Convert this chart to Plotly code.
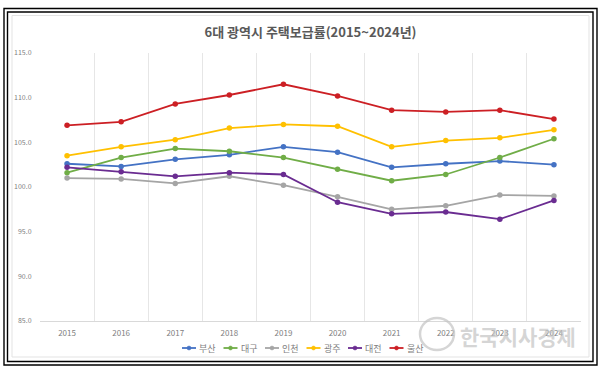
import plotly.graph_objects as go

# ---------------- data ----------------
years = [2015, 2016, 2017, 2018, 2019, 2020, 2021, 2022, 2023, 2024]
busan   = [102.6, 102.3, 103.1, 103.6, 104.5, 103.9, 102.2, 102.6, 102.9, 102.5]
daegu   = [101.6, 103.3, 104.3, 104.0, 103.3, 102.0, 100.7, 101.4, 103.3, 105.4]
incheon = [101.0, 100.9, 100.4, 101.2, 100.2, 98.9, 97.5, 97.9, 99.1, 99.0]
gwangju = [103.5, 104.5, 105.3, 106.6, 107.0, 106.8, 104.5, 105.2, 105.5, 106.4]
daejeon = [102.2, 101.7, 101.2, 101.6, 101.4, 98.3, 97.0, 97.2, 96.4, 98.5]
ulsan   = [106.9, 107.3, 109.3, 110.3, 111.5, 110.2, 108.6, 108.4, 108.6, 107.6]

series_names = ["부산", "대구", "인천", "광주", "대전", "울산"]
series_values = [busan, daegu, incheon, gwangju, daejeon, ulsan]
series_colors = ["#4472C4", "#70AD47", "#A5A5A5", "#FFC000", "#6A2C91", "#CC1F24"]

y_ticks = [85, 90, 95, 100, 105, 110, 115]
y_tick_labels = ["85.0", "90.0", "95.0", "100.0", "105.0", "110.0", "115.0"]
title_text = "6대 광역시 주택보급률(2015~2024년)"
watermark_text = "한국시사경제"

# ---------------- layout geometry ----------------
W, H = 603, 370
ML, MR, MT, MB = 40, 22, 53, 49
PW, PH = W - ML - MR, H - MT - MB


def px(x):
    return (x - ML) / PW


def py(y):
    return (H - MB - y) / PH


FONT = "Noto Sans CJK KR"
TICK_COLOR = "#808080"

fig = go.Figure()
for name, vals, col in zip(series_names, series_values, series_colors):
    fig.add_trace(go.Scatter(
        x=years, y=vals, name=name, mode="lines+markers",
        line=dict(color=col, width=1.8),
        marker=dict(color=col, size=5.5),
        showlegend=False,
    ))

shapes = []
annotations = []

# outer double frame and inner chart-area border
shapes.append(dict(type="rect", xref="paper", yref="paper",
                   x0=px(4), x1=px(597), y0=py(365), y1=py(8.5),
                   line=dict(color="black", width=1.4), layer="above"))
shapes.append(dict(type="rect", xref="paper", yref="paper",
                   x0=px(7.5), x1=px(593), y0=py(361.5), y1=py(12),
                   line=dict(color="black", width=1.4), layer="above"))
shapes.append(dict(type="rect", xref="paper", yref="paper",
                   x0=px(12), x1=px(589), y0=py(357), y1=py(15.5),
                   line=dict(color="#E3E3E3", width=1), layer="below"))

# custom compact legend
leg_x0, leg_step, leg_y = 182, 41.5, 348
for i, (name, col) in enumerate(zip(series_names, series_colors)):
    x0 = leg_x0 + i * leg_step
    shapes.append(dict(type="line", xref="paper", yref="paper",
                       x0=px(x0), x1=px(x0 + 14), y0=py(leg_y), y1=py(leg_y),
                       line=dict(color=col, width=1.8)))
    shapes.append(dict(type="circle", xref="paper", yref="paper",
                       x0=px(x0 + 5), x1=px(x0 + 9), y0=py(leg_y + 2), y1=py(leg_y - 2),
                       fillcolor=col, line=dict(color=col, width=0.5)))
    annotations.append(dict(text=name, xref="paper", yref="paper",
                            x=px(x0 + 15), y=py(leg_y), xanchor="left", yanchor="middle",
                            showarrow=False, font=dict(family=FONT, size=9, color=TICK_COLOR)))

# watermark
shapes.append(dict(type="circle", xref="paper", yref="paper",
                   x0=px(420), x1=px(454), y0=py(350), y1=py(318),
                   line=dict(color="rgba(195,195,195,0.7)", width=2.5)))
annotations.append(dict(text="<b>" + watermark_text + "</b>", xref="paper", yref="paper",
                        x=px(458), y=py(336), xanchor="left", yanchor="middle",
                        showarrow=False,
                        font=dict(family=FONT, size=21, color="rgba(195,195,195,0.7)")))

fig.update_layout(
    width=W, height=H,
    margin=dict(l=ML, r=MR, t=MT, b=MB),
    paper_bgcolor="white", plot_bgcolor="white",
    title=dict(text="<b>" + title_text + "</b>", x=0.5, xref="paper", xanchor="center",
               y=1 - 32 / H, yanchor="middle",
               font=dict(family=FONT, size=13, color="#595959")),
    shapes=shapes, annotations=annotations,
    font=dict(family=FONT),
)

fig.update_xaxes(
    range=[2014.5, 2024.5], tickmode="array", tickvals=years,
    ticktext=[str(y) for y in years],
    showgrid=False, zeroline=False,
    showline=True, linecolor="#D9D9D9", linewidth=1,
    ticks="outside", ticklen=4, tickcolor="rgba(0,0,0,0)",
    tickfont=dict(family=FONT, size=8, color=TICK_COLOR),
    minor=dict(tick0=2014.5, dtick=1, showgrid=True, gridcolor="#E6E6E6", gridwidth=1),
)
fig.update_yaxes(
    range=[85, 115], tickmode="array", tickvals=y_ticks, ticktext=y_tick_labels,
    showgrid=False, zeroline=False, showline=False,
    ticks="outside", ticklen=6, tickcolor="rgba(0,0,0,0)",
    tickfont=dict(family=FONT, size=7, color=TICK_COLOR),
)

fig.write_html("out.html", config={"displayModeBar": False},
               post_script="document.body.style.margin='0';document.body.style.overflow='hidden';")
